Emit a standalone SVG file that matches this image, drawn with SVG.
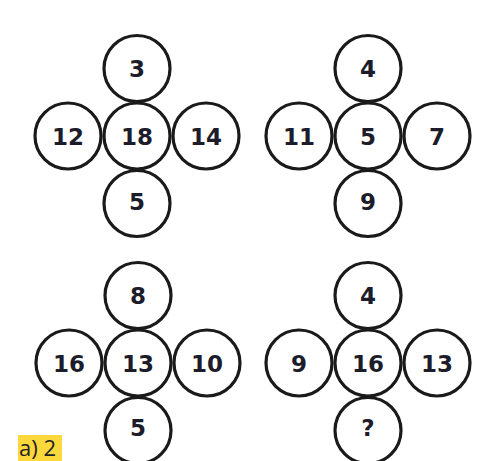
<svg xmlns="http://www.w3.org/2000/svg" width="497" height="461" viewBox="0 0 497 461">
<style>
.c{fill:#fff;stroke:#1a1a1a;stroke-width:3.2}
.t{font-family:"DejaVu Sans","Liberation Sans",sans-serif;font-weight:bold;font-size:23px;fill:#1c1c2a;text-anchor:middle;dominant-baseline:central}
.ans{font-family:"Open Sans","Noto Sans",sans-serif;font-size:22px;fill:#222}
</style>
<rect width="497" height="461" fill="#fff"/>
<g id="cluster-tl">
<g id="tl-top"><circle class="c" cx="137" cy="68.5" r="33"/><text class="t" x="137" y="69">3</text></g>
<g id="tl-left"><circle class="c" cx="68" cy="136" r="33"/><text class="t" x="68" y="136.5">12</text></g>
<g id="tl-right"><circle class="c" cx="206" cy="136" r="33"/><text class="t" x="206" y="136.5">14</text></g>
<g id="tl-bottom"><circle class="c" cx="137" cy="203.5" r="33"/><text class="t" x="137" y="202">5</text></g>
<g id="tl-center"><circle class="c" cx="137" cy="136" r="33"/><text class="t" x="137" y="136.5">18</text></g>
</g>
<g id="cluster-tr">
<g id="tr-top"><circle class="c" cx="368" cy="68.5" r="33"/><text class="t" x="368" y="69">4</text></g>
<g id="tr-left"><circle class="c" cx="299" cy="136" r="33"/><text class="t" x="299" y="136.5">11</text></g>
<g id="tr-right"><circle class="c" cx="437" cy="136" r="33"/><text class="t" x="437" y="136.5">7</text></g>
<g id="tr-bottom"><circle class="c" cx="368" cy="203.5" r="33"/><text class="t" x="368" y="202">9</text></g>
<g id="tr-center"><circle class="c" cx="368" cy="136" r="33"/><text class="t" x="368" y="136.5">5</text></g>
</g>
<g id="cluster-bl">
<g id="bl-top"><circle class="c" cx="138" cy="295.5" r="33"/><text class="t" x="138" y="296">8</text></g>
<g id="bl-left"><circle class="c" cx="69" cy="363" r="33"/><text class="t" x="69" y="363.5">16</text></g>
<g id="bl-right"><circle class="c" cx="207" cy="363" r="33"/><text class="t" x="207" y="363.5">10</text></g>
<g id="bl-bottom"><circle class="c" cx="138" cy="430.5" r="33"/><text class="t" x="138" y="428">5</text></g>
<g id="bl-center"><circle class="c" cx="138" cy="363" r="33"/><text class="t" x="138" y="363.5">13</text></g>
</g>
<g id="cluster-br">
<g id="br-top"><circle class="c" cx="368" cy="295.5" r="33"/><text class="t" x="368" y="296">4</text></g>
<g id="br-left"><circle class="c" cx="299" cy="363" r="33"/><text class="t" x="299" y="363.5">9</text></g>
<g id="br-right"><circle class="c" cx="437" cy="363" r="33"/><text class="t" x="437" y="363.5">13</text></g>
<g id="br-bottom"><circle class="c" cx="368" cy="430.5" r="33"/><text class="t" x="368" y="428">?</text></g>
<g id="br-center"><circle class="c" cx="368" cy="363" r="33"/><text class="t" x="368" y="363.5">16</text></g>
</g>
<g id="connectors"/>
<g id="answer">
<rect x="18" y="435" width="44" height="26" fill="#fcd83c"/>
<text class="ans" x="19" y="456">a) 2</text>
</g>
</svg>
